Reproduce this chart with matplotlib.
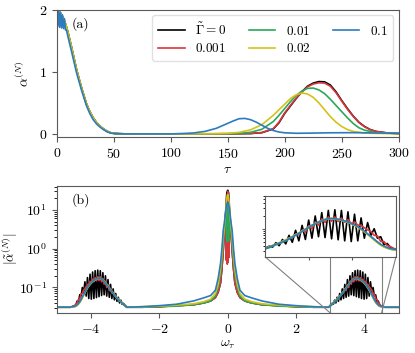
import numpy as np
import matplotlib
matplotlib.use("Agg")
import matplotlib.pyplot as plt
from mpl_toolkits.axes_grid1.inset_locator import mark_inset

plt.rcParams['font.family'] = 'serif'
plt.rcParams['font.serif'] = ['cmr10', 'DejaVu Serif']
plt.rcParams['mathtext.fontset'] = 'cm'
plt.rcParams['axes.formatter.use_mathtext'] = True
plt.rcParams['font.size'] = 10

# ---------------- data ----------------
labels = [r'$\tilde{\Gamma}=0$', r'$0.001$', r'$0.01$', r'$0.02$', r'$0.1$']
colors = ['#000000', '#d9363e', '#2aa85a', '#d4c21a', '#2c7bbf']

# panel (a): early decay (common), blue early decay with oscillations
tau_early = [0, 2, 4, 6, 8, 10, 13, 17.5, 22, 26, 29, 32, 35, 38, 41, 44, 47, 50, 55, 60, 80, 100]
a_early = [2.0, 1.98, 1.93, 1.86, 1.76, 1.63, 1.40, 1.03, 0.73, 0.49, 0.36, 0.26, 0.18, 0.125,
           0.08, 0.045, 0.02, 0.009, 0.003, 0.001, 0.0, 0.0]
tau_early_blue = [0, 0.85, 1.7, 2.55, 3.4, 4.25, 5.1, 5.95, 6.8, 7.65, 8.5, 10, 13, 17.5, 22, 26,
                  29, 32, 35, 38, 41, 44, 47, 50, 55, 60, 80, 100]
a_early_blue = [2.0, 1.74, 1.99, 1.72, 1.96, 1.71, 1.92, 1.70, 1.86, 1.68, 1.68, 1.56, 1.33, 0.98,
                0.69, 0.46, 0.33, 0.23, 0.16, 0.11, 0.07, 0.035, 0.015, 0.006, 0.002, 0.0, 0.0, 0.0]

# panel (a): revival peaks
tau_rev_k = [110, 150, 170, 180, 190, 195, 200, 205, 210, 215, 220, 225, 230, 235, 240, 245, 250,
             255, 260, 265, 270, 275, 280, 290, 300]
a_rev_k = [0.0, 0.002, 0.006, 0.02, 0.08, 0.18, 0.33, 0.45, 0.57, 0.68, 0.77, 0.82, 0.845, 0.84,
           0.79, 0.68, 0.54, 0.41, 0.29, 0.19, 0.12, 0.07, 0.04, 0.015, 0.005]
a_rev_r = [0.0, 0.002, 0.007, 0.022, 0.085, 0.19, 0.34, 0.46, 0.575, 0.675, 0.76, 0.805, 0.825,
           0.82, 0.77, 0.665, 0.53, 0.40, 0.285, 0.185, 0.115, 0.068, 0.04, 0.015, 0.005]
tau_rev_g = [110, 150, 160, 170, 180, 190, 195, 200, 205, 210, 215, 220, 225, 230, 235, 240, 245,
             250, 255, 260, 265, 270, 280, 290, 300]
a_rev_g = [0.0, 0.003, 0.008, 0.025, 0.075, 0.2, 0.3, 0.41, 0.52, 0.62, 0.69, 0.735, 0.74, 0.71,
           0.65, 0.56, 0.46, 0.36, 0.26, 0.17, 0.10, 0.06, 0.02, 0.01, 0.005]
tau_rev_y = [110, 140, 150, 160, 170, 180, 190, 195, 200, 205, 210, 215, 220, 225, 230, 235, 240,
             245, 250, 255, 260, 270, 280, 290, 300]
a_rev_y = [0.0, 0.003, 0.008, 0.025, 0.065, 0.15, 0.3, 0.39, 0.48, 0.57, 0.63, 0.66, 0.645, 0.59,
           0.50, 0.39, 0.28, 0.19, 0.12, 0.07, 0.04, 0.015, 0.008, 0.006, 0.005]
tau_rev_b = [100, 110, 120, 130, 140, 150, 155, 160, 165, 170, 175, 180, 185, 190, 195, 200, 210,
             220, 240, 260, 280, 300]
a_rev_b = [0.002, 0.006, 0.015, 0.04, 0.09, 0.17, 0.21, 0.245, 0.25, 0.23, 0.19, 0.14, 0.09,
           0.055, 0.03, 0.018, 0.01, 0.012, 0.018, 0.02, 0.015, 0.01]

# panel (b): spectra
w_center = [-1.0, -0.7, -0.5, -0.36, -0.28, -0.21, -0.17, -0.13, -0.1, -0.06, -0.04, -0.025,
            -0.012, 0.0, 0.012, 0.025, 0.04, 0.06, 0.1, 0.13, 0.17, 0.21, 0.28, 0.36, 0.5, 0.7, 1.0]
s_center_k = [0.036, 0.040, 0.045, 0.055, 0.075, 0.13, 0.3, 0.9, 2.5, 8, 18, 28, 30, 32, 30, 28,
              18, 8, 2.5, 0.9, 0.3, 0.13, 0.075, 0.055, 0.045, 0.040, 0.036]
s_center_r = [0.036, 0.040, 0.045, 0.055, 0.075, 0.13, 0.3, 0.9, 2.5, 8, 0.5, 20, 0.4, 30, 0.45,
              20, 0.6, 8, 2.5, 0.9, 0.3, 0.13, 0.075, 0.055, 0.045, 0.040, 0.036]
s_center_g = [0.036, 0.040, 0.045, 0.06, 0.1, 0.22, 0.5, 1.3, 2.5, 6, 9, 1.6, 14, 1.5, 14, 1.6, 9,
              6, 2.5, 1.3, 0.5, 0.22, 0.1, 0.06, 0.045, 0.040, 0.036]
s_center_y = [0.038, 0.043, 0.05, 0.07, 0.12, 0.3, 0.7, 2.0, 3.5, 9, 15, 20, 24, 25, 24, 20, 15,
              9, 3.5, 2.0, 0.7, 0.3, 0.12, 0.07, 0.05, 0.043, 0.038]
s_center_b = [0.045, 0.054, 0.062, 0.085, 0.17, 0.42, 1.0, 3.0, 4.5, 9, 12, 14, 15, 16, 15, 14,
              12, 9, 4.5, 3.0, 1.0, 0.42, 0.17, 0.085, 0.062, 0.054, 0.045]

w_mid = [1.5, 2.0, 2.5, 2.95]
s_mid_k = [0.034, 0.032, 0.031, 0.031]
s_mid_r = [0.034, 0.032, 0.031, 0.031]
s_mid_g = [0.033, 0.032, 0.031, 0.031]
s_mid_y = [0.035, 0.033, 0.032, 0.031]
s_mid_b = [0.037, 0.034, 0.032, 0.031]

w_edge = [4.6, 5.0]
s_edge = [0.031, 0.031]

w_side = [3.05, 3.0875, 3.125, 3.1625, 3.2, 3.2375, 3.275, 3.3125, 3.35, 3.3875, 3.425, 3.4625,
          3.5, 3.5375, 3.575, 3.6125, 3.65, 3.6875, 3.725, 3.7625, 3.8, 3.8375, 3.875, 3.9125,
          3.95, 3.9875, 4.025, 4.0625, 4.1, 4.1375, 4.175, 4.2125, 4.25, 4.2875, 4.325, 4.3625,
          4.4, 4.4375, 4.475]
s_side_k = [0.039, 0.037, 0.047, 0.040, 0.056, 0.044, 0.070, 0.048, 0.092, 0.052, 0.12, 0.056,
            0.16, 0.06, 0.2, 0.065, 0.24, 0.062, 0.27, 0.058, 0.28, 0.055, 0.27, 0.052, 0.25, 0.05,
            0.22, 0.052, 0.18, 0.06, 0.14, 0.07, 0.10, 0.06, 0.065, 0.042, 0.045, 0.036, 0.034]
s_side_r = [0.037, 0.039, 0.043, 0.045, 0.05, 0.052, 0.06, 0.062, 0.074, 0.072, 0.093, 0.083,
            0.118, 0.100, 0.145, 0.122, 0.172, 0.140, 0.19, 0.150, 0.19, 0.148, 0.180, 0.142, 0.165,
            0.132, 0.145, 0.122, 0.12, 0.105, 0.094, 0.086, 0.07, 0.068, 0.05, 0.05, 0.04, 0.038,
            0.034]
s_side_g = [0.036, 0.039, 0.042, 0.045, 0.048, 0.052, 0.057, 0.063, 0.070, 0.077, 0.086, 0.096,
            0.107, 0.119, 0.131, 0.143, 0.154, 0.164, 0.171, 0.174, 0.171, 0.166, 0.159, 0.151,
            0.142, 0.132, 0.122, 0.111, 0.099, 0.087, 0.075, 0.065, 0.056, 0.048, 0.042, 0.038,
            0.035, 0.033, 0.032]
s_side_y = [0.038, 0.041, 0.044, 0.047, 0.051, 0.055, 0.060, 0.066, 0.073, 0.080, 0.089, 0.099,
            0.110, 0.122, 0.134, 0.146, 0.156, 0.165, 0.171, 0.173, 0.170, 0.164, 0.157, 0.149,
            0.140, 0.130, 0.119, 0.108, 0.096, 0.084, 0.073, 0.063, 0.054, 0.047, 0.041, 0.037,
            0.035, 0.033, 0.032]
s_side_b = [0.037, 0.040, 0.043, 0.046, 0.049, 0.053, 0.058, 0.064, 0.071, 0.078, 0.087, 0.097,
            0.108, 0.120, 0.132, 0.144, 0.155, 0.165, 0.172, 0.175, 0.172, 0.167, 0.160, 0.152,
            0.143, 0.133, 0.123, 0.112, 0.100, 0.088, 0.076, 0.066, 0.057, 0.049, 0.043, 0.039,
            0.036, 0.034, 0.033]

# ---------------- assemble ----------------
def join_a(t1, a1, t2, a2):
    t = list(t1) + [x for x in t2 if x > t1[-1]]
    a = list(a1) + [y for x, y in zip(t2, a2) if x > t1[-1]]
    return np.array(t), np.array(a)

series_a = [
    join_a(tau_early, a_early, tau_rev_k, a_rev_k),
    join_a(tau_early, a_early, tau_rev_k, a_rev_r),
    join_a(tau_early, a_early, tau_rev_g, a_rev_g),
    join_a(tau_early, a_early, tau_rev_y, a_rev_y),
    join_a(tau_early_blue, a_early_blue, tau_rev_b, a_rev_b),
]

def full_spec(side, mid, center):
    w = ([-x for x in w_edge[::-1]] + [-x for x in w_side[::-1]] + [-x for x in w_mid[::-1]]
         + w_center + w_mid + w_side + w_edge)
    s = (s_edge[::-1] + side[::-1] + mid[::-1] + center + mid + side + s_edge)
    return np.array(w), np.array(s)

series_b = [
    full_spec(s_side_k, s_mid_k, s_center_k),
    full_spec(s_side_r, s_mid_r, s_center_r),
    full_spec(s_side_g, s_mid_g, s_center_g),
    full_spec(s_side_y, s_mid_y, s_center_y),
    full_spec(s_side_b, s_mid_b, s_center_b),
]

# ---------------- figure ----------------
W, H = 415, 353
fig = plt.figure(figsize=(W / 100, H / 100), dpi=100)
frame_col = '0.35'

def px_axes(x0, y0, x1, y1):
    return fig.add_axes([x0 / W, 1 - y1 / H, (x1 - x0) / W, (y1 - y0) / H])

ax1 = px_axes(56.7, 10, 398.7, 137)
ax2 = px_axes(56.7, 185.7, 398.7, 313)
axin = px_axes(265, 195.7, 396, 256.7)

lw = 1.2
for (t, a), c, lab in zip(series_a, colors, labels):
    ax1.plot(t, a, color=c, lw=lw, label=lab)
ax1.set_xlim(0, 300)
ax1.set_ylim(-0.05, 2.0)
ax1.set_yticks([0, 1, 2])
ax1.set_xticks([0, 50, 100, 150, 200, 250, 300])
ax1.set_xlabel(r'$\tau$', labelpad=2)
ax1.set_ylabel(r'$\alpha^{(N)}$')
ax1.yaxis.set_label_coords(-0.075, 0.5)
ax1.text(0.045, 0.94, '(a)', transform=ax1.transAxes, va='top', ha='left')
leg = ax1.legend(ncol=3, loc='upper right', fontsize=9.5, frameon=True, borderaxespad=0.4,
                 handlelength=2.0, columnspacing=1.7, labelspacing=0.35, borderpad=0.45)
leg.get_frame().set_edgecolor('0.85')

for (w, s), c in zip(series_b, colors):
    ax2.plot(w, s, color=c, lw=lw)
    axin.plot(w, s, color=c, lw=lw)
ax2.set_yscale('log')
ax2.set_xlim(-5, 5)
ax2.set_ylim(0.022, 42)
ax2.set_xticks([-4, -2, 0, 2, 4])
ax2.set_yticks([0.1, 1, 10])
ax2.set_xlabel(r'$\omega_\tau$', labelpad=2)
ax2.set_ylabel(r'$|\tilde{\alpha}^{(N)}|$', fontsize=9.5)
ax2.yaxis.set_label_coords(-0.108, 0.5)
ax2.text(0.045, 0.94, '(b)', transform=ax2.transAxes, va='top', ha='left')

axin.set_yscale('log')
axin.set_xlim(3.0, 4.5)
axin.set_ylim(0.022, 0.6)
axin.set_xticks([3.5, 4.0])
axin.tick_params(labelleft=False, labelbottom=False, length=2, which='major')
axin.tick_params(which='minor', length=1.2)
axin.yaxis.set_minor_formatter(matplotlib.ticker.NullFormatter())

for ax in (ax1, ax2, axin):
    for sp in ax.spines.values():
        sp.set_color(frame_col)
    ax.tick_params(colors=frame_col, labelcolor='black')

mark_inset(ax2, axin, loc1=3, loc2=4, fc='none', ec='0.5', lw=0.8)

fig.savefig('out.png', dpi=100)
